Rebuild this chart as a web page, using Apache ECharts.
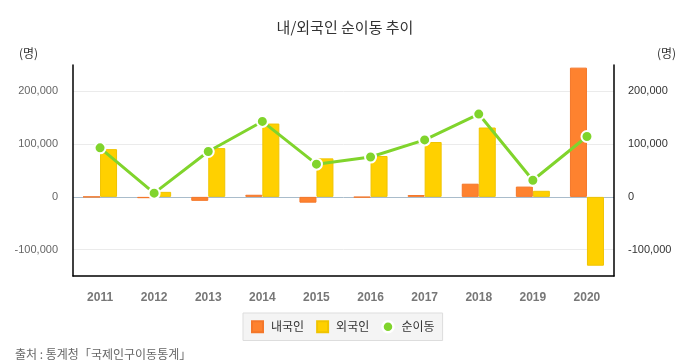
<!DOCTYPE html>
<html><head><meta charset="utf-8">
<script src="https://cdn.jsdelivr.net/npm/echarts@6/dist/echarts.min.js"></script>
<style>html,body{margin:0;padding:0;background:#fff}#c{width:690px;height:360px}</style>
</head><body><div id="c"></div>
<script>
const years = ['2011','2012','2013','2014','2015','2016','2017','2018','2019','2020'];
const domestic = [0, -2500, -7500, 4000, -11000, -1000, 3500, 25000, 19500, 245000];
const foreign = [90500, 9500, 92500, 139000, 73000, 77500, 104000, 131500, 11500, -130500];
const net = [93000, 7000, 86000, 143000, 62000, 75500, 108000, 157000, 31500, 114500];
const yTicks = [-100000, 0, 100000, 200000];

const font = '"Liberation Sans", Arial, "Noto Sans CJK KR", sans-serif';
const kfont = '"Noto Sans CJK KR", sans-serif';
const T = 'rgba(0,0,0,0)';
const chart = echarts.init(document.getElementById('c'));
chart.setOption({
  animation: false,
  textStyle: {fontFamily: font},
  title: [
    {text: '내/외국인 순이동 추이', left: 'center', top: 15, textStyle: {fontSize: 15, fontWeight: 'normal', color: '#333', fontFamily: kfont}},
    {text: '(명)', left: 14, top: 42, textStyle: {fontSize: 12, fontWeight: 'normal', color: '#333', fontFamily: kfont}},
    {text: '(명)', left: 652, top: 42, textStyle: {fontSize: 12, fontWeight: 'normal', color: '#333', fontFamily: kfont}},
    {text: '출처 : 통계청「국제인구이동통계」', left: 10, top: 343, textStyle: {fontSize: 12, fontWeight: 'normal', color: '#666', fontFamily: kfont}}
  ],
  legend: {
    left: 243, top: 313,
    data: [{name: '내국인', icon: 'rect'}, {name: '외국인', icon: 'rect'},
           {name: '순이동', icon: 'circle', itemStyle: {borderWidth: 2.5}}],
    backgroundColor: '#f4f4f4', borderColor: '#dddddd', borderWidth: 1, borderRadius: 0,
    padding: [7, 8], itemGap: 12, itemWidth: 11, itemHeight: 11,
    textStyle: {fontSize: 12, color: '#333', fontFamily: kfont, padding: [0, 0, 0, 3]}
  },
  grid: {left: 73, right: 76, top: 65, bottom: 84},
  xAxis: {
    type: 'category', data: years,
    axisLine: {onZero: false, lineStyle: {color: '#000', width: 1.5}},
    axisTick: {show: false},
    axisLabel: {color: '#777', fontWeight: 'bold', fontSize: 12, margin: 16}
  },
  yAxis: [
    {type: 'value', min: -150000, max: 250000, interval: 50000,
     axisLine: {show: true, lineStyle: {color: '#000', width: 1.5}},
     axisTick: {show: false},
     axisLabel: {color: '#666', fontSize: 11, margin: 15,
       formatter: v => yTicks.includes(v) ? v.toLocaleString('en-US') : ''},
     splitLine: {show: true, lineStyle: {width: 1, color: [T, '#ebebeb', T, '#a9bccb', T, '#ebebeb', T, '#ebebeb', T]}}
    },
    {type: 'value', min: -150000, max: 250000, interval: 50000, position: 'right',
     axisLine: {show: true, lineStyle: {color: '#000', width: 1.5}},
     axisTick: {show: false},
     axisLabel: {color: '#333', fontSize: 11, margin: 14,
       formatter: v => yTicks.includes(v) ? v.toLocaleString('en-US') : ''},
     splitLine: {show: false}
    }
  ],
  series: [
    {name: '내국인', type: 'bar', data: domestic, barWidth: 17, barGap: '0%',
     itemStyle: {color: '#fe822f', borderColor: '#f4772a', borderWidth: 1}},
    {name: '외국인', type: 'bar', data: foreign, barWidth: 17, barGap: '0%',
     itemStyle: {color: '#ffd000', borderColor: '#f0c400', borderWidth: 1}},
    {name: '순이동', type: 'line', data: net, symbol: 'circle', symbolSize: 11,
     lineStyle: {color: '#80d42c', width: 3},
     itemStyle: {color: '#80d42c', borderColor: '#fff', borderWidth: 2}, z: 5}
  ]
});
</script></body></html>
